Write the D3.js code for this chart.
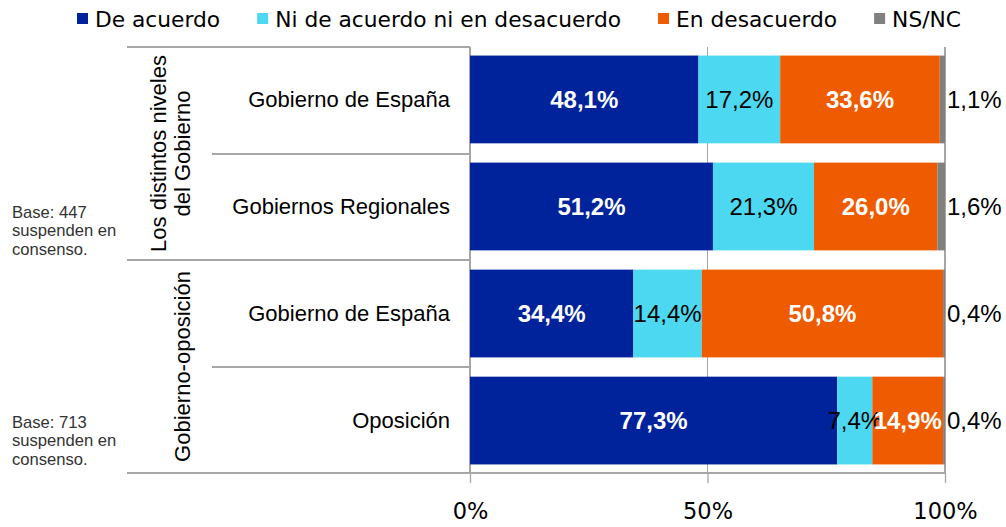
<!DOCTYPE html>
<html>
<head>
<meta charset="utf-8">
<script src="https://cdn.jsdelivr.net/npm/d3@7"></script>
<style>
  body { margin: 0; background: #fff; }
  svg { display: block; }
</style>
</head>
<body>
<script>
// chart values
var rowLabels = ["Gobierno de España", "Gobiernos Regionales", "Gobierno de España", "Oposición"];
var groupLabels = [["Los distintos niveles", "del Gobierno"], ["Gobierno-oposición"]];
var baseNotes = [["Base: 447", "suspenden en", "consenso."], ["Base: 713", "suspenden en", "consenso."]];
var seriesNames = ["De acuerdo", "Ni de acuerdo ni en desacuerdo", "En desacuerdo", "NS/NC"];
var deAcuerdo = [48.1, 51.2, 34.4, 77.3];
var niNi = [17.2, 21.3, 14.4, 7.4];
var enDesacuerdo = [33.6, 26.0, 50.8, 14.9];
var nsnc = [1.1, 1.6, 0.4, 0.4];
var tickValues = [0, 0.5, 1];

var colors = ["#00239c", "#4bd8f0", "#ee5b00", "#808080"];
var lineColor = "#a6a6a6";

var width = 1006, height = 527;
var svg = d3.select("body").append("svg").attr("width", width).attr("height", height);

var table = rowLabels.map(function (name, i) {
  return { id: i, name: name, s0: deAcuerdo[i], s1: niNi[i], s2: enDesacuerdo[i], s3: nsnc[i] };
});
var keys = ["s0", "s1", "s2", "s3"];
var stacked = d3.stack().keys(keys).offset(d3.stackOffsetExpand)(table);

var plotTop = 47, plotBottom = 473;
var x = d3.scaleLinear().domain([0, 1]).range([470, 945]);
var y = d3.scaleBand().domain(table.map(function (d) { return d.id; }))
  .range([plotTop, plotBottom]).paddingInner(0.18).paddingOuter(0.08);
var yGroup = d3.scaleBand().domain([0, 1]).range([plotTop, plotBottom]);

var es = d3.formatLocale({ decimal: ",", thousands: ".", grouping: [3], currency: ["", "€"] });
var fmt = function (v) { return es.format(".1f")(v) + "%"; };

// grid + table lines
var grid = svg.append("g").attr("stroke", lineColor).attr("stroke-width", 1.3).attr("shape-rendering", "crispEdges");
tickValues.forEach(function (t) {
  grid.append("line").attr("x1", x(t)).attr("x2", x(t)).attr("y1", plotTop).attr("y2", plotBottom);
});
[plotTop, yGroup(1), plotBottom].forEach(function (yy) {
  grid.append("line").attr("x1", 127).attr("x2", x(0)).attr("y1", yy).attr("y2", yy);
});
[plotTop + y.step(), yGroup(1) + y.step()].forEach(function (yy) {
  grid.append("line").attr("x1", 212).attr("x2", x(0)).attr("y1", yy).attr("y2", yy);
});
grid.append("line").attr("x1", x(0)).attr("x2", x(1)).attr("y1", plotBottom).attr("y2", plotBottom);

// bars
var layers = svg.append("g").selectAll("g").data(stacked).enter().append("g")
  .attr("fill", function (d, i) { return colors[i]; });
layers.selectAll("rect").data(function (d) { return d; }).enter().append("rect")
  .attr("x", function (d) { return x(d[0]); })
  .attr("y", function (d) { return y(d.data.id); })
  .attr("width", function (d) { return x(d[1]) - x(d[0]); })
  .attr("height", y.bandwidth());

// value labels
var labels = svg.append("g").attr("font-family", "'Liberation Sans', Arial, sans-serif").attr("font-size", 24);
stacked.forEach(function (layer, i) {
  labels.selectAll(null).data(layer).enter().append("text")
    .attr("x", function (d) { return i === 3 ? x(d[1]) + 2 : (x(d[0]) + x(d[1])) / 2; })
    .attr("y", function (d) { return y(d.data.id) + y.bandwidth() / 2; })
    .attr("dy", "0.36em")
    .attr("text-anchor", i === 3 ? "start" : "middle")
    .attr("fill", (i === 0 || i === 2) ? "#fff" : "#000")
    .attr("font-weight", (i === 0 || i === 2) ? "bold" : "normal")
    .text(function (d) { return fmt(d.data[keys[i]]); });
});

// row labels
svg.append("g").selectAll("text").data(table).enter().append("text")
  .attr("x", 450)
  .attr("y", function (d) { return y(d.id) + y.bandwidth() / 2; })
  .attr("dy", "0.36em")
  .attr("text-anchor", "end")
  .attr("font-family", "'Liberation Sans', Arial, sans-serif")
  .attr("font-size", 22)
  .text(function (d) { return d.name; });

// group labels (rotated)
groupLabels.forEach(function (lines, g) {
  var cy = yGroup(g) + yGroup.bandwidth() / 2;
  lines.forEach(function (line, k) {
    var cx = 182 - 24 * (lines.length - 1 - k);
    svg.append("text")
      .attr("transform", "translate(" + cx + "," + cy + ") rotate(-90)")
      .attr("dy", "0.36em")
      .attr("text-anchor", "middle")
      .attr("font-family", "'Liberation Sans', Arial, sans-serif")
      .attr("font-size", 22)
      .text(line);
  });
});

// base notes
baseNotes.forEach(function (lines, g) {
  var t = svg.append("text")
    .attr("font-family", "'Liberation Sans', Arial, sans-serif")
    .attr("font-size", 16.6)
    .attr("fill", "#333");
  lines.forEach(function (line, k) {
    t.append("tspan").attr("x", 12).attr("y", [218, 428][g] + k * 18.3).text(line);
  });
});

// x axis
var axis = svg.append("g").attr("transform", "translate(0," + plotBottom + ")")
  .call(d3.axisBottom(x).tickValues(tickValues).tickFormat(d3.format(".0%")).tickSize(10));
axis.select(".domain").remove();
axis.selectAll(".tick line").attr("stroke", lineColor).attr("stroke-width", 1.3);
axis.selectAll(".tick text")
  .attr("y", 30)
  .attr("font-family", "'DejaVu Sans', Verdana, sans-serif")
  .attr("font-size", 22.5)
  .attr("fill", "#000");

// legend
var legend = svg.append("g").attr("font-family", "'DejaVu Sans', Verdana, sans-serif").attr("font-size", 21.75);
var lx = 77;
seriesNames.forEach(function (name, i) {
  legend.append("rect").attr("x", lx).attr("y", 13).attr("width", 11).attr("height", 11).attr("fill", colors[i]);
  var t = legend.append("text").attr("x", lx + 18).attr("y", 19).attr("dy", "0.36em").text(name);
  lx += 18 + t.node().getComputedTextLength() + 37;
});
</script>
</body>
</html>
